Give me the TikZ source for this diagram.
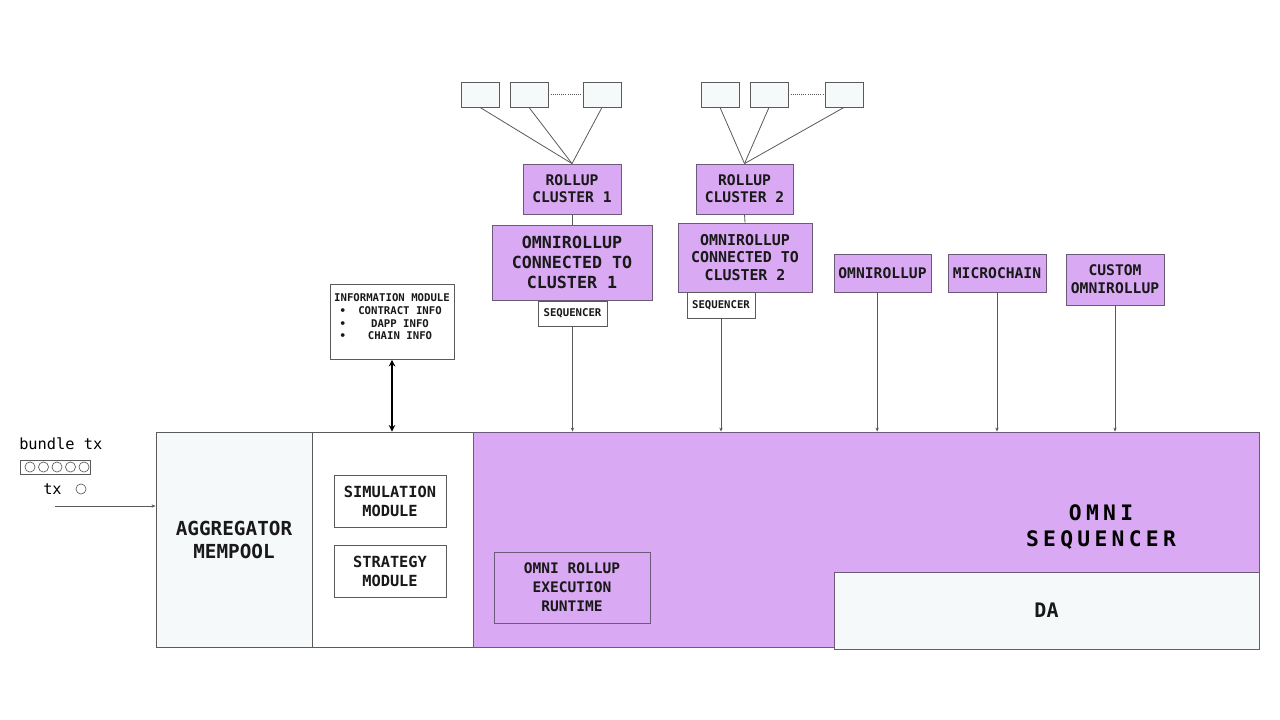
\documentclass[tikz,border=0pt]{standalone}
\usepackage{fontspec}
\setmonofont{DejaVu Sans Mono}
\newfontfamily\spacedmono[LetterSpace=20]{DejaVu Sans Mono}
\usetikzlibrary{arrows.meta,positioning}
\definecolor{omni}{HTML}{D9AAF3}
\definecolor{pale}{HTML}{F6F9FA}
\definecolor{edge}{HTML}{5A5A5A}
\definecolor{omniedge}{HTML}{6B5A78}

\newcommand{\sz}[2]{\fontsize{#1}{#2}\selectfont}
\newcommand{\infoitem}[1]{\makebox[10.8em]{\rlap{\hspace{0.5em}\textbullet}\hfill\hspace{1.5em}#1\hfill}}

\tikzset{
  base/.style={rectangle, inner sep=0pt, align=center, text=black!90, line width=0.6pt},
  size/.style 2 args={minimum width={#1*0.75pt}, minimum height={#2*0.75pt}},
  purplebox/.style={base, draw=omniedge, fill=omni},
  whitebox/.style={base, draw=edge, fill=white},
  palebox/.style={base, draw=edge, fill=pale},
  wire/.style={draw=black!65, line width=0.6pt},
  feed/.style={wire, -{Stealth[length=3pt,width=2.5pt]}},
}

\begin{document}
\begin{tikzpicture}[x=0.75pt,y=-0.75pt]
  \useasboundingbox (0,0) rectangle (1280,720);

  % chains on top of the clusters
  \foreach \n/\x in {l11/480, l12/529, l13/602, l21/720, l22/769, l23/844}
    \node[palebox, size={38}{25}] (\n) at (\x,94.5) {};

  % rollup clusters
  \node[purplebox, size={98}{50}, font=\ttfamily\bfseries\sz{11}{12.75}] (rc1) at (572,189) {ROLLUP\\CLUSTER 1};
  \node[purplebox, size={97}{50}, font=\ttfamily\bfseries\sz{11}{12.75}] (rc2) at (744.5,189) {ROLLUP\\CLUSTER 2};

  % omnirollups connected to clusters
  \node[purplebox, size={160}{75}, font=\ttfamily\bfseries\sz{12.5}{15}] (oc1) at (572,262.5) {OMNIROLLUP\\CONNECTED TO\\CLUSTER 1};
  \node[purplebox, size={134}{69}, font=\ttfamily\bfseries\sz{11.2}{13.1}] (oc2) at (745,257.5) {OMNIROLLUP\\CONNECTED TO\\CLUSTER 2};
  \node[whitebox, size={69}{25}, font=\ttfamily\bfseries\sz{8}{9}] (seq1) at (572.5,313.5) {SEQUENCER};
  \node[whitebox, size={68}{26}, font=\ttfamily\bfseries\sz{8}{9}] (seq2) at (721,305) {SEQUENCER};

  % other chains
  \node[purplebox, size={97}{38}, font=\ttfamily\bfseries\sz{11}{13.5}] (orl) at (882.5,273) {OMNIROLLUP};
  \node[purplebox, size={98}{38}, font=\ttfamily\bfseries\sz{11}{13.5}] (mch) at (997,273) {MICROCHAIN};
  \node[purplebox, size={98}{51}, font=\ttfamily\bfseries\sz{11}{13.5}] (cor) at (1115,279.5) {CUSTOM\\OMNIROLLUP};

  % information module
  \node[whitebox, size={124}{75}, anchor=north, font=\ttfamily\bfseries\sz{8}{9.5}] (info) at (392,284)
    {INFORMATION MODULE\\\infoitem{CONTRACT INFO}\\\infoitem{DAPP INFO}\\\infoitem{CHAIN INFO}\\[-2pt]\mbox{}};

  % bottom row
  \node[palebox, size={156}{215}, font=\ttfamily\bfseries\sz{14.5}{17.25}] (agg) at (234,539.5) {AGGREGATOR\\MEMPOOL};
  \node[whitebox, size={161}{215}] (mid) at (392.5,539.5) {};
  \node[whitebox, size={112}{52}, font=\ttfamily\bfseries\sz{11.5}{14.25}] (sim) at (390,501) {SIMULATION\\MODULE};
  \node[whitebox, size={112}{52}, font=\ttfamily\bfseries\sz{11.5}{14.25}] (strat) at (390,571) {STRATEGY\\MODULE};
  \node[purplebox, size={786}{215}] (omni) at (866,539.5) {};
  \node[font=\spacedmono\bfseries\sz{16}{19.5}, align=center] (omnilab) at (1101,527) {OMNI\\SEQUENCER};
  \node[purplebox, size={156}{71}, font=\ttfamily\bfseries\sz{10.9}{14.25}] (exec) at (572,587.5) {OMNI ROLLUP\\EXECUTION\\RUNTIME};
  \node[base, draw=omniedge, fill=pale, size={425}{77}, font=\ttfamily\bfseries\sz{15}{18}] (da) at (1046.5,610.5) {DA};

  % incoming transactions
  \node[anchor=west, inner sep=0pt, font=\ttfamily\sz{11.5}{13}] (bundle) at (19,444) {bundle tx};
  \node[base, draw=edge, size={70}{14}] (bag) at (55,467) {};
  \foreach \i in {0,...,4}
    \draw[edge, line width=0.5pt] (30+13.5*\i,467) circle (3.8pt);
  \node[anchor=west, inner sep=0pt, font=\ttfamily\sz{11.5}{13}] (tx) at (43,489) {tx};
  \draw[edge, line width=0.5pt] (81,489) circle (3.8pt);
  \coordinate (txin) at (55,506);
  \draw[feed] (txin) -- (txin -| agg.west);

  % connectors
  \foreach \n in {l11,l12,l13} \draw[wire] (\n.south) -- (rc1.north);
  \foreach \n in {l21,l22,l23} \draw[wire] (\n.south) -- (rc2.north);
  \draw[wire, densely dotted] (l12.east) -- (l13.west);
  \draw[wire, densely dotted] (l22.east) -- (l23.west);
  \draw[wire] (rc1.south) -- (oc1.north);
  \draw[wire] (rc2.south) -- (oc2.north);
  \foreach \n in {seq1,seq2,mch,cor}
    \draw[feed] (\n.south) -- (\n.south |- omni.north);
  \draw[feed] ([xshift=-4pt]orl.south) -- ([xshift=-4pt]orl.south |- omni.north);
  \draw[black, line width=1.3pt, {Stealth[length=5pt,width=5pt]}-{Stealth[length=5pt,width=5pt]}] (info.south) -- (info.south |- mid.north);
\end{tikzpicture}
\end{document}
